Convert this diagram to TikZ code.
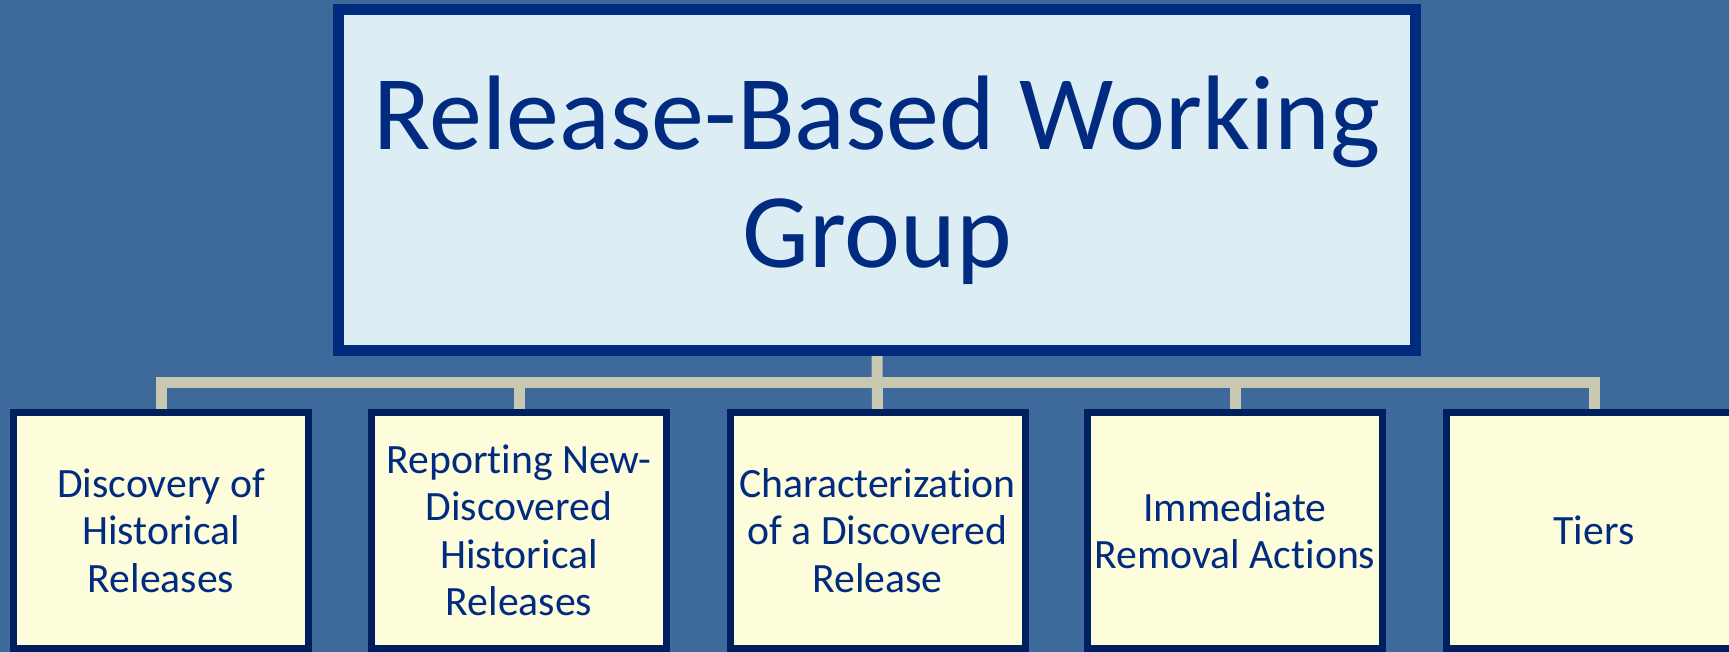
\documentclass[tikz,border=0pt]{standalone}
\usepackage{fontspec}
\setmainfont{Carlito}[Ligatures=NoCommon]
\definecolor{bgblue}{HTML}{3D6A9B}
\definecolor{topfill}{HTML}{DCEEF4}
\definecolor{topline}{HTML}{002A7E}
\definecolor{subfill}{HTML}{FDFDDB}
\definecolor{subline}{HTML}{001F5E}
\definecolor{txt}{HTML}{002B80}
\definecolor{conn}{HTML}{C9C8B0}
\pgfdeclarelayer{canvas}
\pgfdeclarelayer{links}
\pgfsetlayers{canvas,links,main}
\tikzset{
  topbox/.style={draw=topline, fill=topfill, line width=11pt, minimum width=1077pt, minimum height=341pt,
    inner sep=0pt, text=txt, align=center, font=\fontsize{106}{118}\selectfont},
  subbox/.style={draw=subline, fill=subfill, line width=7pt, minimum width=295pt, minimum height=236pt,
    inner sep=0pt, text=txt, align=center, font=\fontsize{41.7}{47.5}\selectfont},
  connector/.style={draw=conn, line width=11pt}
}
\begin{document}
\begin{tikzpicture}[x=1pt, y=-1pt]
\useasboundingbox (0,0) rectangle (1729,652);
\clip (0,0) rectangle (1729,652);
\begin{pgfonlayer}{canvas}
\fill[bgblue] (0,0) rectangle (1729,652);
\end{pgfonlayer}
\node[topbox] (top) at (877,180) {Release-Based Working\\Group};
\coordinate (bar) at (877,382);
\node[subbox] (s1) at (161,530.5) {Discovery of\\Historical\\Releases};
\node[subbox] (s2) at (519,530.5) {Reporting New-\\Discovered\\Historical\\Releases};
\node[subbox] (s3) at (877.5,530.5) {Characterization\\of a Discovered\\Release};
\node[subbox] (s4) at (1235,530.5) {Immediate\\Removal Actions};
\node[subbox] (s5) at (1594,530.5) {Tiers};
\begin{pgfonlayer}{links}
\draw[connector] (top.south) -- (s3.north);
\draw[connector, line cap=rect] (s1.north |- bar) -- (s5.north |- bar);
\foreach \n in {s1,s2,s4,s5} {
  \draw[connector] (\n.north |- bar) -- (\n.north);
}
\end{pgfonlayer}
\end{tikzpicture}
\end{document}
